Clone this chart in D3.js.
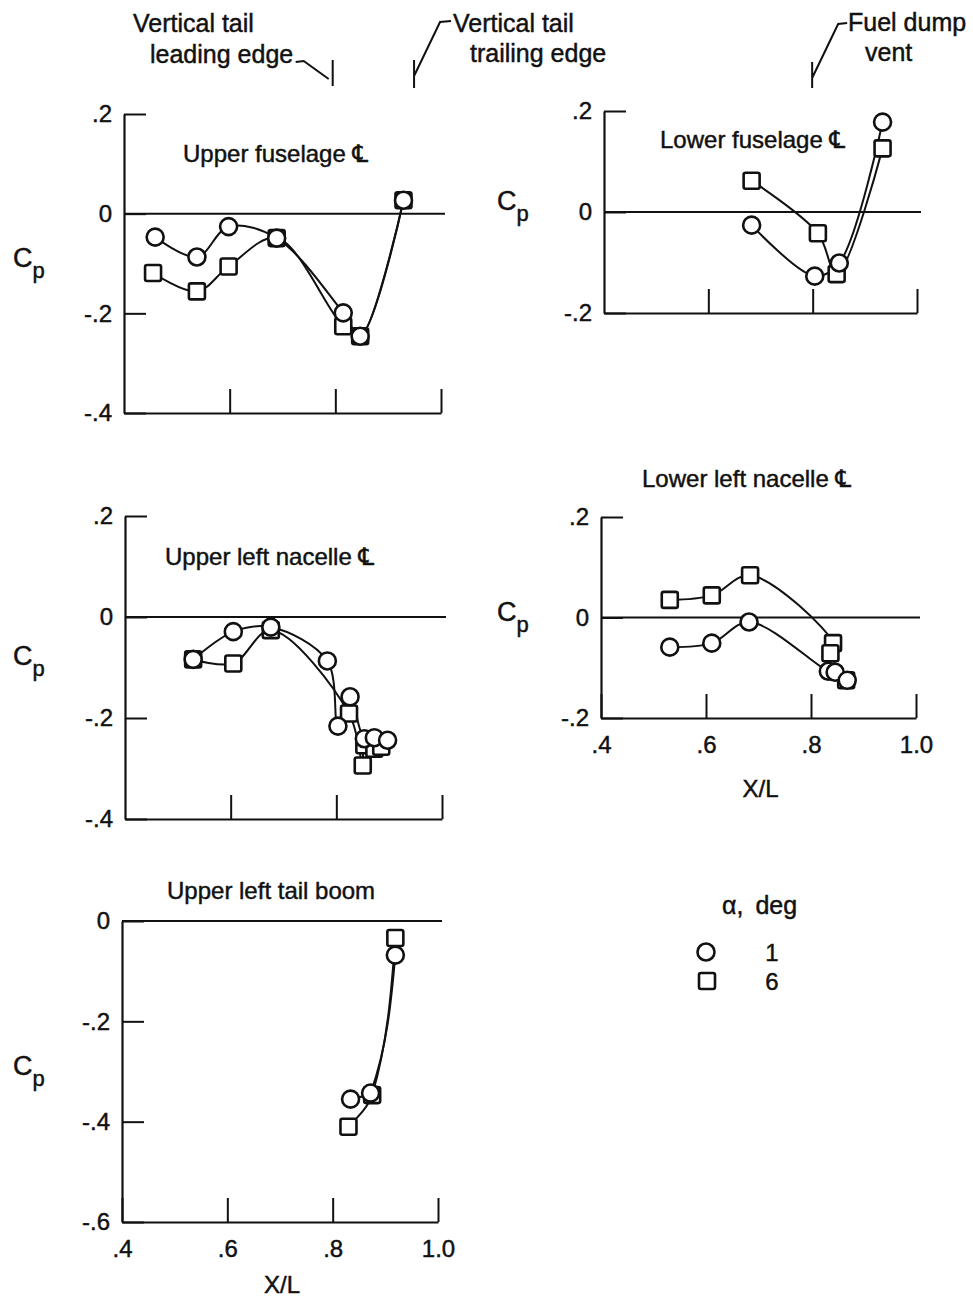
<!DOCTYPE html>
<html lang="en">
	<head>
		<meta charset="UTF-8" />
		<title>Cp along X/L</title>
		<script src="https://d3js.org/d3.v7.min.js"></script>
		<style>
			body {
				margin: 0;
				background: #fff;
			}
			svg {
				display: block;
				background: #fff;
			}
			text {
				font-family: "Liberation Sans", Arial, "DejaVu Sans", sans-serif;
				fill: #111;
				stroke: #111;
				stroke-width: 0.45px;
			}
		</style>
	</head>
	<body>
		<svg id="chart"></svg>

		<script>
			// Data: [X/L, Cp]
			const xTicks = [0.4, 0.6, 0.8, 1.0];
			const legendAlpha = ["1", "6"];

			const upperFuselageA1 = [[0.459, -0.047], [0.538, -0.087], [0.598, -0.026], [0.689, -0.049], [0.815, -0.199], [0.847, -0.246], [0.929, 0.027]];
			const upperFuselageA6 = [[0.455, -0.119], [0.538, -0.156], [0.598, -0.106], [0.689, -0.049], [0.815, -0.226], [0.847, -0.246], [0.929, 0.027]];

			const lowerFuselageA1 = [[0.683, -0.026], [0.804, -0.127], [0.851, -0.101], [0.934, 0.178]];
			const lowerFuselageA6 = [[0.683, 0.062], [0.810, -0.042], [0.846, -0.123], [0.934, 0.126]];

			const upperNacelleA1 = [[0.529, -0.084], [0.605, -0.029], [0.676, -0.02], [0.783, -0.087], [0.803, -0.216], [0.826, -0.158], [0.853, -0.241], [0.872, -0.239], [0.897, -0.244]];
			const upperNacelleA6 = [[0.529, -0.084], [0.605, -0.092], [0.676, -0.026], [0.824, -0.191], [0.85, -0.294], [0.853, -0.254], [0.872, -0.261], [0.885, -0.257]];

			const lowerNacelleA1 = [[0.531, -0.059], [0.611, -0.051], [0.682, -0.009], [0.833, -0.107], [0.846, -0.109], [0.869, -0.125]];
			const lowerNacelleA6 = [[0.531, 0.035], [0.611, 0.044], [0.684, 0.084], [0.842, -0.051], [0.837, -0.071], [0.867, -0.125]];

			const tailBoomA1 = [[0.834, -0.355], [0.872, -0.343], [0.919, -0.068]];
			const tailBoomA6 = [[0.83, -0.41], [0.875, -0.347], [0.919, -0.034]];

			// station marks above the top panels (X/L)
			const leadingEdgeX = 0.795;
			const trailingEdgeX = 0.949;
			const fuelVentX = 0.799;

			// Layout
			const WIDTH = 973;
			const HEIGHT = 1303;
			const CL = "\u2104";

			const smooth = d3.curveCatmullRom.alpha(0.5);
			const panels = [
				{ title: "Upper fuselage " + CL, a1: upperFuselageA1, a6: upperFuselageA6, xr: [124, 441], yd: [-0.4, 0.2], yr: [413, 114], yTicks: [-0.4, -0.2, 0, 0.2], tx: 183, ty: 162, cp: [13, 267], curve: smooth },
				{ title: "Lower fuselage " + CL, a1: lowerFuselageA1, a6: lowerFuselageA6, xr: [604, 917], yd: [-0.2, 0.2], yr: [313, 111], yTicks: [-0.2, 0, 0.2], tx: 660, ty: 148, cp: [497, 210], curve: smooth },
				{ title: "Upper left nacelle " + CL, a1: upperNacelleA1, a6: upperNacelleA6, xr: [125, 442], yd: [-0.4, 0.2], yr: [819, 516], yTicks: [-0.4, -0.2, 0, 0.2], tx: 165, ty: 565, cp: [13, 665], curve: smooth },
				{ title: "Lower left nacelle " + CL, a1: lowerNacelleA1, a6: lowerNacelleA6, xr: [601, 916], yd: [-0.2, 0.2], yr: [718, 517], yTicks: [-0.2, 0, 0.2], tx: 642, ty: 487, cp: [497, 621], xLabels: 797, curve: smooth },
				{ title: "Upper left tail boom", a1: tailBoomA1, a6: tailBoomA6, xr: [122, 438], yd: [-0.6, 0], yr: [1222, 921], yTicks: [-0.6, -0.4, -0.2, 0], tx: 167, ty: 899, cp: [13, 1075], xLabels: 1293, curve: d3.curveMonotoneY },
			];

			const fmtY = (v) => (Math.abs(v) < 1e-9 ? "0" : (v < 0 ? "-" : "") + "." + Math.round(Math.abs(v) * 10));
			const fmtX = (v) => (v === 1 ? "1.0" : "." + Math.round(v * 10));

			const svg = d3.select("#chart").attr("width", WIDTH).attr("height", HEIGHT);

			function circleMark(g, cx, cy) {
				g.append("circle").attr("cx", cx).attr("cy", cy).attr("r", 8.5).attr("fill", "#fff").attr("stroke", "#111").attr("stroke-width", 2.6);
			}
			function squareMark(g, cx, cy) {
				g.append("rect")
					.attr("x", cx - 8)
					.attr("y", cy - 8)
					.attr("width", 16)
					.attr("height", 16)
					.attr("rx", 2)
					.attr("fill", "#fff")
					.attr("stroke", "#111")
					.attr("stroke-width", 2.6);
			}

			panels.forEach((p) => {
				const x = d3.scaleLinear().domain([0.4, 1.0]).range(p.xr);
				const y = d3.scaleLinear().domain(p.yd).range(p.yr);
				const g = svg.append("g");

				// zero line
				g.append("line")
					.attr("x1", x(0.4))
					.attr("x2", x(1.0) + 4)
					.attr("y1", y(0))
					.attr("y2", y(0))
					.attr("stroke", "#111")
					.attr("stroke-width", 2);

				// y axis
				const ya = g
					.append("g")
					.attr("transform", `translate(${x(0.4)},0)`)
					.call(d3.axisLeft(y).tickValues(p.yTicks).tickSizeInner(-22).tickSizeOuter(0).tickPadding(12).tickFormat(fmtY));
				ya.attr("font-size", 24).attr("font-family", null);
				ya.select(".domain").attr("stroke", "#111").attr("stroke-width", 2.2);
				ya.selectAll(".tick line").attr("stroke", "#111").attr("stroke-width", 2);

				// x axis
				const xa = g
					.append("g")
					.attr("transform", `translate(0,${y(p.yd[0])})`)
					.call(
						d3
							.axisBottom(x)
							.tickValues(p.xLabels ? xTicks : xTicks.slice(1))
							.tickSizeInner(-24)
							.tickSizeOuter(0)
							.tickPadding(18)
							.tickFormat(p.xLabels ? fmtX : () => "")
					);
				xa.attr("font-size", 24).attr("font-family", null);
				xa.select(".domain").attr("stroke", "#111").attr("stroke-width", 2.2);
				xa.selectAll(".tick line").attr("stroke", "#111").attr("stroke-width", 2);

				if (p.xLabels) {
					g.append("text")
						.attr("x", (p.xr[0] + p.xr[1]) / 2 + 2)
						.attr("y", p.xLabels)
						.attr("text-anchor", "middle")
						.attr("font-size", 24)
						.text("X/L");
				}

				// Cp label
				const cp = g.append("text").attr("x", p.cp[0]).attr("y", p.cp[1]).attr("font-size", 27);
				cp.append("tspan").text("C");
				cp.append("tspan").attr("dy", 11).attr("font-size", 22).text("p");

				g.append("text").attr("x", p.tx).attr("y", p.ty).attr("font-size", 24).text(p.title);

				// faired curves
				const line = d3
					.line()
					.x((d) => x(d[0]))
					.y((d) => y(d[1]))
					.curve(p.curve);
				[p.a1, p.a6].forEach((s) => {
					g.append("path").attr("d", line(s)).attr("fill", "none").attr("stroke", "#111").attr("stroke-width", 2);
				});

				// symbols
				p.a6.forEach((d) => squareMark(g, x(d[0]), y(d[1])));
				p.a1.forEach((d) => circleMark(g, x(d[0]), y(d[1])));
			});

			// station annotations
			const xTop = d3.scaleLinear().domain([0.4, 1.0]).range(panels[0].xr);
			const xTopR = d3.scaleLinear().domain([0.4, 1.0]).range(panels[1].xr);
			const ann = svg.append("g").attr("fill", "none").attr("stroke", "#111").attr("stroke-width", 2);

			const le = xTop(leadingEdgeX);
			ann.append("path").attr("d", `M${le},60V86M${le - 37},62L${le - 29},61L${le - 4},79`);
			const te = xTop(trailingEdgeX);
			ann.append("path").attr("d", `M${te},60V88M${te},76L${te + 26},22L${te + 37},21`);
			const fv = xTopR(fuelVentX);
			ann.append("path").attr("d", `M${fv},62V88M${fv},78L${fv + 26},24L${fv + 35},23`);

			const notes = [
				["Vertical tail", 133, 32],
				["leading edge", 150, 63],
				["Vertical tail", 453, 32],
				["trailing edge", 470, 62],
				["Fuel dump", 848, 31],
				["vent", 865, 61],
			];
			svg.append("g")
				.selectAll("text")
				.data(notes)
				.enter()
				.append("text")
				.attr("x", (d) => d[1])
				.attr("y", (d) => d[2])
				.attr("font-size", 25)
				.text((d) => d[0]);

			// legend
			const lg = svg.append("g");
			const lt = lg.append("text").attr("x", 722).attr("y", 914).attr("font-size", 25);
			lt.append("tspan").text("α,");
			lt.append("tspan").attr("dx", 12).text("deg");
			circleMark(lg, 706, 952);
			squareMark(lg, 707, 981);
			lg.selectAll(".lv")
				.data(legendAlpha)
				.enter()
				.append("text")
				.attr("class", "lv")
				.attr("x", 772)
				.attr("y", (d, i) => 961 + i * 29)
				.attr("text-anchor", "middle")
				.attr("font-size", 24)
				.text((d) => d);
		</script>
	</body>
</html>
